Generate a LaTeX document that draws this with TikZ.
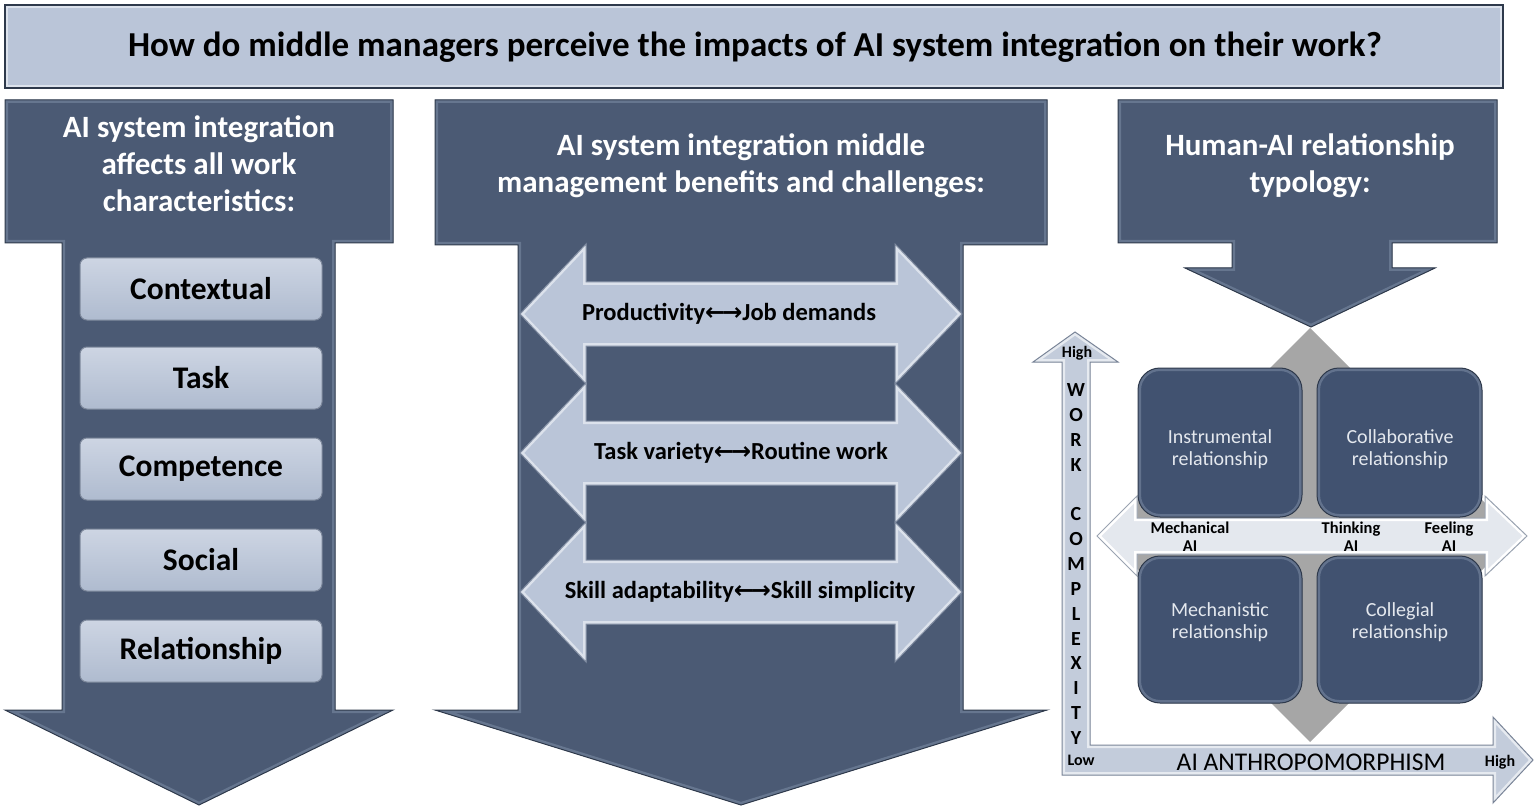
\documentclass[tikz,border=0pt]{standalone}
\usepackage{fontspec}
\setmainfont{Carlito}
\newfontfamily\arrowfont{DejaVu Sans}
\definecolor{slate}{HTML}{4B5A74}
\definecolor{slatebevel}{HTML}{66768F}
\definecolor{slateedge}{HTML}{2E394B}
\definecolor{lightfill}{HTML}{BAC5D8}
\definecolor{lightbevel}{HTML}{DCE2EC}
\definecolor{lightedge}{HTML}{7F8BA0}
\definecolor{quadfill}{HTML}{415270}
\definecolor{quadbevel}{HTML}{62728D}
\definecolor{diamondgray}{HTML}{A6A6A6}
\definecolor{axisfill}{HTML}{C3CCDB}
\definecolor{axisbevel}{HTML}{E6EAF0}
\definecolor{axisedge}{HTML}{7A8598}
\definecolor{hfill}{HTML}{E4E8EE}
\definecolor{hbevel}{HTML}{FFFFFF}
\definecolor{hedge}{HTML}{9AA3B1}
\definecolor{boxtop}{HTML}{CDD5E3}
\definecolor{boxbot}{HTML}{AFBBCF}
\definecolor{boxedge}{HTML}{7D889B}
\definecolor{quadtext}{HTML}{E4E8EE}
\newcommand{\bevelshape}[4]{%
  \fill[#1] #4;
  \begin{scope}\clip #4; \draw[#2, line width=6pt] #4; \end{scope}
  \draw[#3, line width=1pt, line join=miter] #4;
}
\newcommand{\lrarrow}{{\arrowfont\fontsize{24}{24}\selectfont\char"2190\kern-3pt\char"2192}}
\tikzset{
  coltitle/.style={text=white, align=center, font=\bfseries\fontsize{31}{37}\selectfont},
  charbox/.style={rounded corners=7pt, top color=boxtop, bottom color=boxbot, draw=boxedge, line width=1pt},
  charlabel/.style={text=black, font=\bfseries\fontsize{31.5}{33}\selectfont},
  dbllabel/.style={text=black, font=\bfseries\fontsize{24.5}{26}\selectfont},
  quadlabel/.style={text=quadtext, align=center, font=\fontsize{20}{22}\selectfont},
  axislabel/.style={text=black, align=center, font=\bfseries\fontsize{16.5}{18}\selectfont},
  smalllabel/.style={text=black, font=\bfseries\fontsize{16}{17}\selectfont},
  vletter/.style={text=black, font=\bfseries\fontsize{20}{21}\selectfont},
}
\begin{document}
\begin{tikzpicture}[x=1pt,y=-1pt]
\useasboundingbox (0,0) rectangle (1536,810);
\fill[white] (0,0) rectangle (1536,810);

% Title bar
\bevelshape{fill=lightfill}{lightbevel}{slateedge}{(5,5) rectangle (1503,88)}
\draw[slateedge, line width=2pt] (5,5) rectangle (1503,88);
\node[text=black, font=\bfseries\fontsize{35}{38}\selectfont] (title) at (755,47) {How do middle managers perceive the impacts of AI system integration on their work?};

% Left arrow
\bevelshape{fill=slate}{slatebevel}{slateedge}{(5,100) -- (393,100) -- (393,243) -- (335,243) -- (335,710) -- (393,710) -- (199,805) -- (5,710) -- (62,710) -- (62,243) -- (5,243) -- cycle}
\node[coltitle] (lefttitle) at (199,164) {AI system integration\\affects all work\\characteristics:};

\foreach \y/\lab/\nm in {289/Contextual/ctx, 378/Task/tsk, 469/Competence/cmp, 560/Social/soc, 651/Relationship/rel}{
  \shade[charbox] (80,\y-31) rectangle (322,\y+31);
  \node[charlabel] (\nm) at (201,\y) {\lab};
}

% Middle arrow
\bevelshape{fill=slate}{slatebevel}{slateedge}{(435,100) -- (1047,100) -- (1047,245) -- (963,245) -- (963,710) -- (1047,710) -- (741,805) -- (435,710) -- (518,710) -- (518,245) -- (435,245) -- cycle}
\node[coltitle] (midtitle) at (741,166) {AI system integration middle\\management benefits and challenges:};

\foreach \c in {314,453,592}{
  \bevelshape{fill=lightfill}{lightbevel}{lightedge}{(520,\c) -- (586,\c-70) -- (586,\c-32) -- (895,\c-32) -- (895,\c-70) -- (962,\c) -- (895,\c+70) -- (895,\c+32) -- (586,\c+32) -- (586,\c+70) -- cycle}
}
\node[dbllabel] (dbl1) at (729,314) {Productivity\lrarrow Job demands};
\node[dbllabel] (dbl2) at (741,453) {Task variety\lrarrow Routine work};
\node[dbllabel] (dbl3) at (740,592) {Skill adaptability\lrarrow Skill simplicity};

% Right arrow
\bevelshape{fill=slate}{slatebevel}{slateedge}{(1118,100) -- (1497,100) -- (1497,243) -- (1392,243) -- (1392,268) -- (1435,268) -- (1311,327) -- (1185,268) -- (1232,268) -- (1232,243) -- (1118,243) -- cycle}
\node[coltitle] (righttitle) at (1310,166) {Human-AI relationship\\typology:};

% Diamond
\fill[diamondgray] (1310,328) -- (1517,535) -- (1310,742) -- (1103,535) -- cycle;

% Horizontal double arrow in typology
\bevelshape{fill=hfill}{hbevel}{hedge}{(1097,536) -- (1137,496) -- (1137,518) -- (1485,518) -- (1485,496) -- (1527,536) -- (1485,576) -- (1485,554) -- (1137,554) -- (1137,576) -- cycle}

% Quadrant boxes
\bevelshape{fill=quadfill}{quadbevel}{slateedge}{[rounded corners=22pt] (1138,368) rectangle (1302,517)}
\bevelshape{fill=quadfill}{quadbevel}{slateedge}{[rounded corners=22pt] (1317,368) rectangle (1482,517)}
\bevelshape{fill=quadfill}{quadbevel}{slateedge}{[rounded corners=22pt] (1138,556) rectangle (1302,703)}
\bevelshape{fill=quadfill}{quadbevel}{slateedge}{[rounded corners=22pt] (1317,556) rectangle (1482,703)}
\node[quadlabel] (instr) at (1220,449) {Instrumental\\relationship};
\node[quadlabel] (collab) at (1400,449) {Collaborative\\relationship};
\node[quadlabel] (mechr) at (1220,622) {Mechanistic\\relationship};
\node[quadlabel] (colleg) at (1400,622) {Collegial\\relationship};

\node[axislabel] (mechai) at (1190,537) {Mechanical\\AI};
\node[axislabel] (thinkai) at (1351,537) {Thinking\\AI};
\node[axislabel] (feelai) at (1449,537) {Feeling\\AI};

% Axes (L-shaped arrow)
\bevelshape{fill=axisfill}{axisbevel}{axisedge}{(1075,332) -- (1118,362) -- (1090,362) -- (1090,745) -- (1493,745) -- (1493,717) -- (1533,760) -- (1493,803) -- (1493,775) -- (1062,775) -- (1062,362) -- (1033,362) -- cycle}
\node[smalllabel] (vhigh) at (1077,353) {High};
\node[smalllabel] (vlow) at (1081,760) {Low};
\node[smalllabel] (hhigh) at (1500,762) {High};
\node[text=black, font=\fontsize{25.5}{27}\selectfont] (anthro) at (1311,762) {AI ANTHROPOMORPHISM};
\foreach \ch [count=\i from 0] in {W,O,R,K}{
  \node[vletter] at (1076,390+24.86*\i) {\ch};
}
\foreach \ch [count=\i from 5] in {C,O,M,P,L,E,X,I,T,Y}{
  \node[vletter] at (1076,390+24.86*\i) {\ch};
}
\end{tikzpicture}
\end{document}
